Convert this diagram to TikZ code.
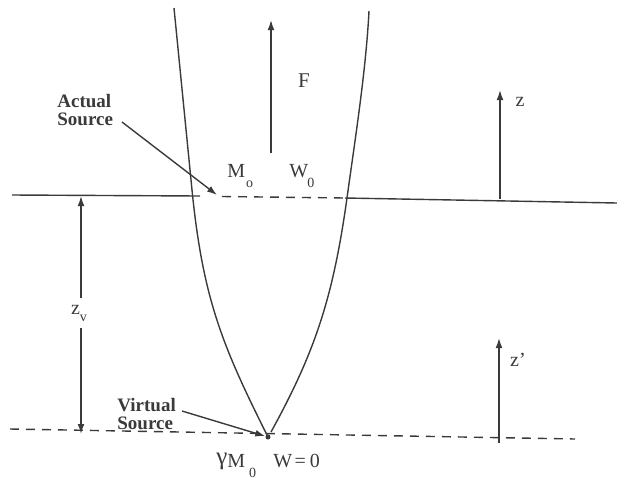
\documentclass[tikz,border=0pt]{standalone}
\usepackage{fontspec}
\setmainfont{Liberation Serif}
\usetikzlibrary{arrows.meta}
\definecolor{ink}{HTML}{3A3A3A}
\tikzset{
  ln/.style={draw=ink, line width=0.7pt},
  arr/.style={ln, -{Latex[length=5pt,width=3.4pt]}},
  dsh/.style={ln, dash pattern=on 4.5pt off 3.5pt},
  boldlbl/.style={text=ink, font=\fontsize{9.5}{9}\selectfont\bfseries, align=left, inner sep=0pt},
  lbl/.style={text=ink, font=\fontsize{10}{11}\selectfont, inner sep=0pt},
}
\begin{document}
\begin{tikzpicture}[x=0.5pt,y=-0.5pt]
\useasboundingbox (0,0) rectangle (617,478);
% horizontal reference lines
\coordinate (hl0) at (12,195);
\coordinate (hl1) at (200,196);
\coordinate (hd0) at (222,196.5);
\coordinate (hd1) at (345,198);
\coordinate (hr1) at (617,203);
\draw[ln] (hl0) -- (hl1);
\draw[dsh] (hd0) -- (hd1);
\draw[ln] (hd1) -- (hr1);
\coordinate (bl0) at (10,429);
\coordinate (bl1) at (575,439);
\draw[dsh] (bl0) -- (bl1);
% beam profile
\node[circle, fill=ink, inner sep=0pt, minimum size=2.5pt] (vs) at (268,437) {};
\coordinate (ltop) at (174,8);
\coordinate (lmid) at (192,190);
\coordinate (rtop) at (369,11);
\coordinate (rmid) at (347,198);
\coordinate (rend) at (271,432);
\draw[ln] (ltop) -- (lmid) .. controls (203,300) and (223,347) .. (vs.center);
\draw[ln] (rtop) .. controls (366,70) and (355,140) .. (rmid) .. controls (333,298) and (315,352) .. (rend);
% F arrow
\coordinate (Fb) at (271,153);
\coordinate (Ft) at (271,20);
\draw[arr] (Fb) -- (Ft);
\node[lbl, font=\fontsize{10.5}{11}\selectfont] (F) at (304,81) {F};
% labels at waist
\node[lbl, anchor=base west] (Mo) at (227,177) {M\kern0.5pt\raisebox{-5pt}{\scriptsize o}};
\node[lbl, anchor=base west] (Wo) at (289,177) {W\kern-0.5pt\raisebox{-5pt}{\scriptsize 0}};
% actual source
\node[boldlbl, anchor=north west] (act) at (57,94) {Actual\\Source};
\coordinate (actt) at (217,195);
\draw[arr] (122,122) -- (actt);
% virtual source
\node[boldlbl, anchor=north west] (virt) at (117,398) {Virtual\\Source};
\draw[arr] (182,411) -- (vs);
% bottom labels
\node[lbl, anchor=base west] (gM) at (216,467) {\raisebox{1.5pt}{\fontsize{12.5}{12}\selectfont γ}M\kern2pt\raisebox{-5pt}{\scriptsize 0}};
\node[lbl, anchor=base west] (W0) at (273,467) {W\kern1.2pt=\kern2pt0};
% z axes
\coordinate (zb) at (500,199);
\coordinate (zt) at (500,90);
\draw[arr] (zb) -- (zt);
\node[lbl] (z) at (520,102) {z};
\coordinate (zpb) at (499,443);
\coordinate (zpt) at (499,338);
\draw[arr] (zpb) -- (zpt);
\node[lbl] (zp) at (518,360) {z\textquoteright};
% z_v dimension
\node[lbl] (zv) at (79,313) {z\raisebox{-3.5pt}{\scriptsize v}};
\coordinate (zvt) at (81,196);
\coordinate (zvb) at (81,434);
\draw[arr] (81,298) -- (zvt);
\draw[arr] (81,328) -- (zvb);
\end{tikzpicture}
\end{document}
